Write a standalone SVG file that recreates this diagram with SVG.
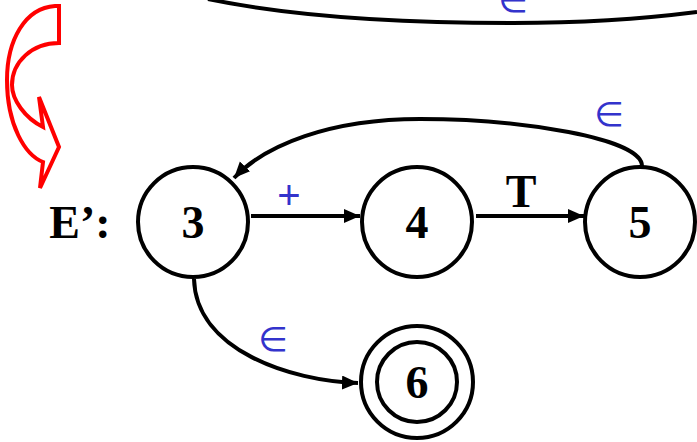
<svg xmlns="http://www.w3.org/2000/svg" width="697" height="442" viewBox="0 0 697 442">
<style>
.node{fill:#fff;stroke:#000;stroke-width:4}
.lbl{font-family:"Liberation Serif","Times New Roman",serif;font-weight:bold;font-size:46px;fill:#000;text-anchor:middle}
.edge{fill:none;stroke:#000;stroke-width:4}
.blue{font-family:"DejaVu Sans",sans-serif;fill:#3333CC;text-anchor:middle}
</style>
<defs>
<marker id="ah" markerUnits="userSpaceOnUse" markerWidth="18" markerHeight="16" refX="16" refY="7" orient="auto">
<path d="M0,0 L16,7 L0,14 z" fill="#000"/>
</marker>
</defs>
<path d="M59,6 L55,6 C25,8 7,40 7,80 C7,125 25,155 43,162 L40,188 L59,147 L39,97 L43,127 C25,118 12,100 12,85 C12,62 32,43 59,43 Z" fill="none" stroke="#FF0000" stroke-width="4" stroke-linejoin="miter"/>
<text x="80" y="238" class="lbl" font-size="45">E’:</text>
<g id="connectors">
<path class="edge" d="M208,-1 C290,16 400,23 513,23 C590,23 650,18 697,12" stroke-width="5"/>
<text class="blue" x="513" y="12" font-size="34">∈</text>
<path class="edge" d="M251,216 L360,216" marker-end="url(#ah)"/>
<text x="289" y="209" font-family="Liberation Sans,Arial,sans-serif" font-size="40" fill="#3333CC" text-anchor="middle">+</text>
<path class="edge" d="M476,216 L584,216" marker-end="url(#ah)"/>
<text x="521" y="207" class="lbl">T</text>
<path class="edge" d="M642,166 C642,138 520,119 420,119 C330,119 265,145 234,178" marker-end="url(#ah)"/>
<text class="blue" x="609" y="126" font-size="34">∈</text>
<path class="edge" d="M194,279 C196,350 290,381 358,383" marker-end="url(#ah)"/>
<text class="blue" x="273" y="351" font-size="34">∈</text>
</g>
<g id="n3"><circle class="node" cx="193" cy="222" r="55"/><text x="193" y="238" class="lbl">3</text></g>
<g id="n4"><circle class="node" cx="417" cy="222" r="55"/><text x="417" y="238" class="lbl">4</text></g>
<g id="n5"><circle class="node" cx="640" cy="222" r="55"/><text x="640" y="238" class="lbl">5</text></g>
<g id="n6"><circle class="node" cx="417" cy="382" r="56"/><circle class="node" cx="417" cy="382" r="40"/><text x="417" y="398" class="lbl" font-size="44">6</text></g>
</svg>
